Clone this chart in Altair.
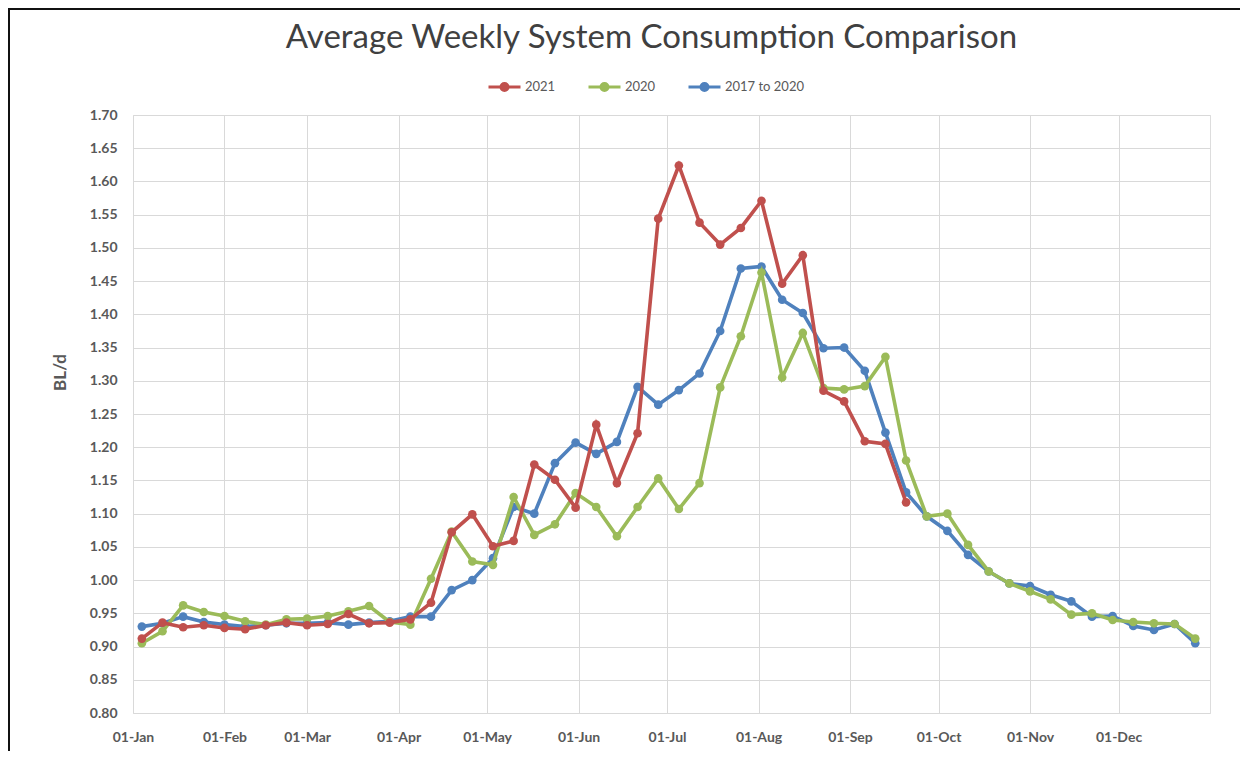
import altair as alt
import pandas as pd

# ---- data ----
series_names = ["2021", "2020", "2017 to 2020"]
series_colors = ["#C0504D", "#9BBB59", "#4F81BD"]

week_dates = [d.strftime("%Y-%m-%dT00:00:00") for d in pd.date_range("2021-01-04", periods=52, freq="7D")]

values_2021 = [0.912, 0.936, 0.929, 0.932, 0.928, 0.926, 0.932, 0.936, 0.932, 0.934,
               0.949, 0.935, 0.936, 0.941, 0.966, 1.072, 1.099, 1.051, 1.059, 1.174,
               1.151, 1.109, 1.234, 1.146, 1.221, 1.544, 1.624, 1.538, 1.505, 1.530,
               1.571, 1.446, 1.489, 1.285, 1.269, 1.209, 1.205, 1.117]

values_2020 = [0.905, 0.923, 0.962, 0.952, 0.946, 0.938, 0.933, 0.941, 0.942, 0.946,
               0.953, 0.961, 0.937, 0.933, 1.002, 1.073, 1.028, 1.023, 1.125, 1.068,
               1.084, 1.131, 1.110, 1.066, 1.110, 1.153, 1.107, 1.146, 1.290, 1.367,
               1.463, 1.305, 1.372, 1.289, 1.287, 1.292, 1.336, 1.180, 1.096, 1.100,
               1.053, 1.013, 0.995, 0.983, 0.971, 0.948, 0.950, 0.940, 0.937, 0.935,
               0.934, 0.912]

values_2017_2020 = [0.930, 0.935, 0.945, 0.937, 0.933, 0.930, 0.932, 0.935, 0.935, 0.936,
                    0.933, 0.936, 0.938, 0.945, 0.945, 0.985, 1.000, 1.033, 1.110, 1.100,
                    1.176, 1.207, 1.190, 1.208, 1.291, 1.264, 1.286, 1.311, 1.375, 1.469,
                    1.472, 1.422, 1.402, 1.349, 1.350, 1.315, 1.222, 1.132, 1.096, 1.074,
                    1.038, 1.013, 0.995, 0.991, 0.978, 0.968, 0.945, 0.946, 0.931, 0.925,
                    0.934, 0.905]

y_ticks = [0.80, 0.85, 0.90, 0.95, 1.00, 1.05, 1.10, 1.15, 1.20, 1.25,
           1.30, 1.35, 1.40, 1.45, 1.50, 1.55, 1.60, 1.65, 1.70]
x_tick_months = [1, 2, 3, 4, 5, 6, 7, 8, 9, 10, 11, 12]

rows = []
for name, vals in zip(series_names, [values_2021, values_2020, values_2017_2020]):
    for d, v in zip(week_dates, vals):
        rows.append({"week": d, "value": v, "series": name})
df = pd.DataFrame(rows)

FONT = "Lato"
GREY = "#595959"
GRID = "#d9d9d9"

color_scale = alt.Scale(domain=series_names, range=series_colors)

legend_path = ("M-1,0L1,0"
               "M-0.22,0A0.22,0.22,0,1,0,0.22,0A0.22,0.22,0,1,0,-0.22,0"
               "M-0.12,0A0.12,0.12,0,1,0,0.12,0A0.12,0.12,0,1,0,-0.12,0"
               "M-0.04,0A0.04,0.04,0,1,0,0.04,0A0.04,0.04,0,1,0,-0.04,0")

x_enc = alt.X(
    "week:T",
    scale=alt.Scale(domain=[alt.DateTime(year=2021, month=1, date=1),
                            alt.DateTime(year=2022, month=1, date=1)]),
    axis=alt.Axis(
        values=[alt.DateTime(year=2021, month=m, date=1) for m in x_tick_months],
        format="%d-%b", title=None, labelFont=FONT, labelFontSize=14,
        labelFontWeight="bold", labelColor=GREY, ticks=False, domain=False,
        labelPadding=17, gridColor=GRID, labelFlush=False,
    ),
)
y_enc = alt.Y(
    "value:Q",
    scale=alt.Scale(domain=[0.8, 1.7], nice=False, zero=False),
    axis=alt.Axis(
        values=y_ticks, format=".2f", title="BL/d", titleFont=FONT,
        titleFontSize=17, titleFontWeight="bold", titleColor=GREY,
        titleX=-73, titleY=257, titleAngle=270, titleBaseline="middle",
        labelFont=FONT, labelFontSize=14, labelFontWeight="bold",
        labelColor=GREY, ticks=False, domain=False, labelPadding=16,
        gridColor=GRID,
    ),
)
color_enc = alt.Color(
    "series:N", scale=color_scale, sort=series_names,
    legend=alt.Legend(
        title=None, orient="none", direction="horizontal",
        legendX=354, legendY=-46, symbolType=legend_path, symbolSize=1024,
        symbolStrokeWidth=3, labelFont=FONT, labelFontSize=13,
        labelColor=GREY, columnPadding=26, labelOffset=3, padding=0,
    ),
)

base = alt.Chart(df)


def series_layer(name):
    return base.transform_filter(alt.datum.series == name).mark_line(
        strokeWidth=3.6,
        point=alt.OverlayMarkDef(size=75, filled=True, opacity=1),
    ).encode(x=x_enc, y=y_enc, color=color_enc)


frame_df = pd.DataFrame({"k": [0]})
frame_top = alt.Chart(frame_df).mark_rule(color="#111111", strokeWidth=2).encode(
    x=alt.value(-125), x2=alt.value(1130), y=alt.value(-106))
frame_left = alt.Chart(frame_df).mark_rule(color="#111111", strokeWidth=2).encode(
    x=alt.value(-124), y=alt.value(-107), y2=alt.value(642))

chart = alt.layer(
    series_layer("2017 to 2020"),
    series_layer("2020"),
    series_layer("2021"),
    frame_top,
    frame_left,
).properties(
    width=1077,
    height=598,
    autosize=alt.AutoSizeParams(type="none"),
    padding={"left": 125, "top": 107, "right": 30, "bottom": 38},
    title=alt.TitleParams(
        "Average Weekly System Consumption Comparison",
        font=FONT, fontSize=33, fontWeight="normal", color="#404040",
        anchor="middle", frame="group", offset=-48, dx=-20,
    ),
).configure_view(stroke=GRID).configure(background="white")

chart.save("out.html", embed_options={"renderer": "svg", "actions": False})
